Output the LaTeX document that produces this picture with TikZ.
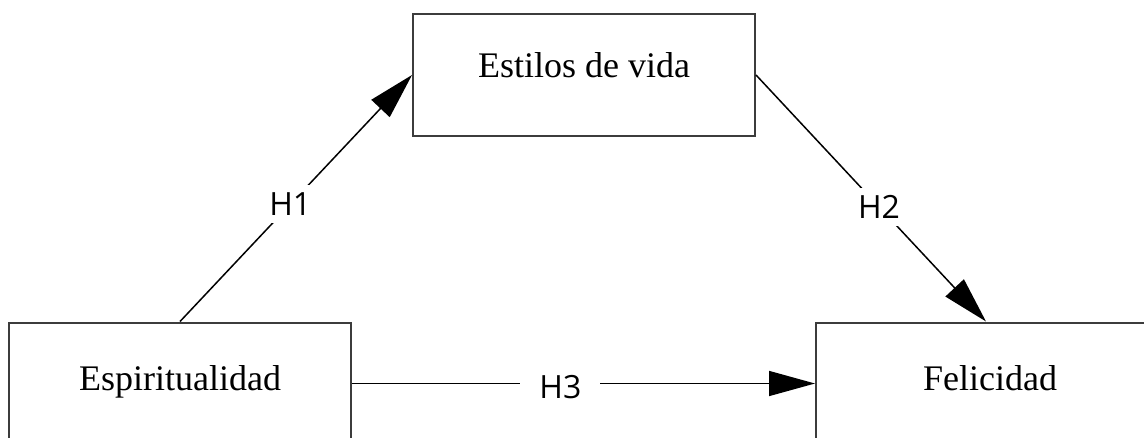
\documentclass[tikz,border=0pt]{standalone}
\usepackage{fontspec}
\setmainfont{Liberation Serif}
\newfontfamily\labfont{Open Sans}
\usetikzlibrary{arrows.meta,positioning}
\definecolor{boxgray}{HTML}{3C3C3C}
\tikzset{
  varbox/.style={draw=boxgray, line width=1pt, fill=white, minimum width=171pt,
    minimum height=61pt, inner sep=0pt, font=\fontsize{18}{21}\selectfont,
    text height=12pt},
  topbox/.style={varbox, text depth=9pt},
  lowbox/.style={varbox, text depth=5.5pt},
  link/.style={draw=black, line width=0.75pt, -{Triangle[length=23pt,width=12.5pt]}},
  hyp/.style={fill=white, inner sep=0pt, minimum width=40pt, minimum height=19pt,
    font=\labfont\fontsize{16}{18}\selectfont}
}
\begin{document}
\begin{tikzpicture}[x=0.5pt,y=-0.5pt]
\useasboundingbox (0,0) rectangle (1144,438);
\begin{scope}
\clip (0,0) rectangle (1144,438);
\fill[white] (0,0) rectangle (1144,438);
\node[topbox] (vida) at (584,75) {Estilos de vida};
\node[lowbox] (esp) at (180,383.5) {Espiritualidad};
\node[lowbox, minimum width=180pt] (fel) at (996,383.5) {};
\node[font=\fontsize{18}{21}\selectfont, text height=12pt, text depth=5.5pt, inner sep=0pt] (feltext) at (990,383.5) {Felicidad};
\draw[link] (esp.north) -- node[hyp, pos=0.475] (h1) {H1} (vida.west);
\draw[link] (vida.east) -- node[hyp, pos=0.535] (h2) {H2} ([xshift=-5pt]fel.north);
\draw[link] (esp.east) -- node[hyp, pos=0.45, text height=14.5pt, text depth=0pt] (h3) {H3} (fel.west);
\end{scope}
\end{tikzpicture}
\end{document}
